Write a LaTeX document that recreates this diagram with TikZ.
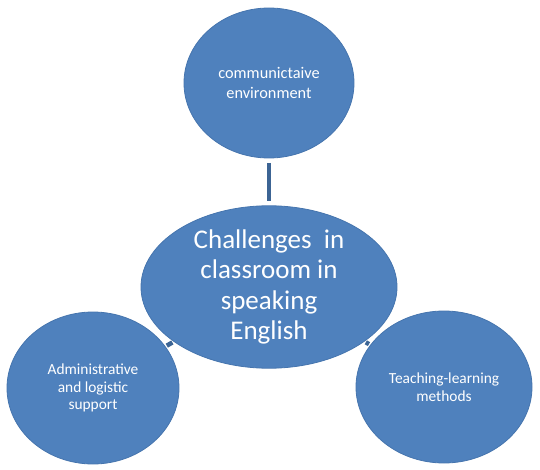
\documentclass[tikz,border=0pt]{standalone}
\usepackage{fontspec}
\setmainfont{Carlito}
\usetikzlibrary{shapes.geometric}
\definecolor{bubblefill}{HTML}{4F81BD}
\definecolor{bubbleline}{HTML}{4675AE}
\definecolor{linkcol}{HTML}{3C6494}
\tikzset{
  bubble/.style={ellipse, fill=bubblefill, draw=bubbleline, line width=0.8pt,
    inner sep=0pt, align=center, text=white},
  smalltext/.style={font=\fontsize{15.4}{17.8}\selectfont},
  link/.style={draw=linkcol, line width=4.5pt, shorten >=4.5pt, shorten <=4.5pt}
}
\begin{document}
\begin{tikzpicture}[x=1pt,y=-1pt]
\useasboundingbox (0,0) rectangle (540,470);
\node[bubble, minimum width=170pt, minimum height=150pt,
  font=\fontsize{16.3}{19.3}\selectfont] (top) at (269,83)
  {communictaive\\environment};
\node[bubble, minimum width=256pt, minimum height=150pt,
  font=\fontsize{27}{30.5}\selectfont] (ctr) at (269,287)
  {Challenges\ \ in\\classroom in\\speaking\\English};
\node[bubble, smalltext, minimum width=172pt, minimum height=152pt] (lft) at (93,388)
  {Administrative\\and logistic\\support};
\node[bubble, smalltext, minimum width=176pt, minimum height=152pt] (rgt) at (444,387)
  {Teaching-learning\\methods};
\draw[link] (top) -- (ctr);
\draw[link, shorten >=1.5pt, shorten <=1.5pt] (ctr) -- (lft);
\draw[link, shorten >=1.5pt, shorten <=1.5pt] (ctr) -- (rgt);
\end{tikzpicture}
\end{document}
